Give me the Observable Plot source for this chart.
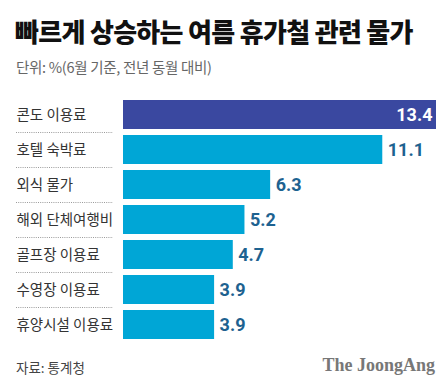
<!DOCTYPE html>
<html><head><meta charset="utf-8">
<script src="https://cdn.jsdelivr.net/npm/d3@7"></script>
<script src="https://cdn.jsdelivr.net/npm/@observablehq/plot@0.6"></script>
<style>
body{margin:0;background:#fff;width:441px;height:391px;overflow:hidden;position:relative;font-family:"Noto Sans CJK KR",sans-serif}
#title{position:absolute;left:15px;top:14px;font-size:26px;font-weight:900;letter-spacing:-0.7px;color:#111;line-height:34px;white-space:nowrap}
#sub{position:absolute;left:16px;top:57px;font-size:14.5px;color:#666;line-height:20px;letter-spacing:-0.3px;white-space:nowrap}
#chart{position:absolute;left:0;top:84px}
#src{position:absolute;left:16px;top:358px;font-size:13.5px;color:#444;line-height:18px;white-space:nowrap}
#logo{position:absolute;right:6px;top:353px;font-family:"Liberation Serif",serif;font-weight:700;font-size:18px;color:#777;line-height:24px;white-space:nowrap}
</style></head>
<body>
<div id="title">빠르게 상승하는 여름 휴가철 관련 물가</div>
<div id="sub">단위: %(6월 기준, 전년 동월 대비)</div>
<div id="chart"></div>
<div id="src">자료: 통계청</div>
<div id="logo">The JoongAng</div>
<script>
const categories = ["콘도 이용료","호텔 숙박료","외식 물가","해외 단체여행비","골프장 이용료","수영장 이용료","휴양시설 이용료"];
const values = [13.4, 11.1, 6.3, 5.2, 4.7, 3.9, 3.9];
const highlight = "콘도 이용료";
const barColors = ["#3a48a0", "#00a6d6"];

const data = categories.map((cat, i) => ({cat, value: values[i], hl: cat === highlight ? "hl" : "other"}));

const chart = Plot.plot({
  width: 441, height: 261,
  marginLeft: 123, marginRight: 5, marginTop: 10, marginBottom: 0,
  x: {domain: [0, 13.4], axis: null},
  y: {domain: categories, axis: null, padding: 0.171},
  color: {domain: ["hl", "other"], range: barColors},
  style: {fontFamily: "'Noto Sans CJK KR', sans-serif", background: "transparent", overflow: "visible"},
  marks: [
    Plot.barX(data, {x: "value", y: "cat", fill: "hl"}),
    Plot.ruleY(data.slice(0, -1), {y: "cat", dy: 17.5, insetLeft: -107, insetRight: 323, stroke: "#9a9a9a", strokeWidth: 1, strokeDasharray: "1,1.2"}),
    Plot.text(data, {y: "cat", text: "cat", frameAnchor: "left", textAnchor: "start", dx: -107, fontSize: 14.5, fill: "#333"}),
    Plot.text(data.filter(d => d.hl === "hl"), {x: "value", y: "cat", text: d => d.value.toFixed(1), textAnchor: "end", dx: -4, fill: "white", fontWeight: 700, fontSize: 18, fontFamily: "Roboto"}),
    Plot.text(data.filter(d => d.hl !== "hl"), {x: "value", y: "cat", text: d => d.value.toFixed(1), textAnchor: "start", dx: 5, fill: "#1d6290", fontWeight: 700, fontSize: 18, fontFamily: "Roboto"})
  ]
});
document.getElementById("chart").appendChild(chart);
</script>
</body></html>
